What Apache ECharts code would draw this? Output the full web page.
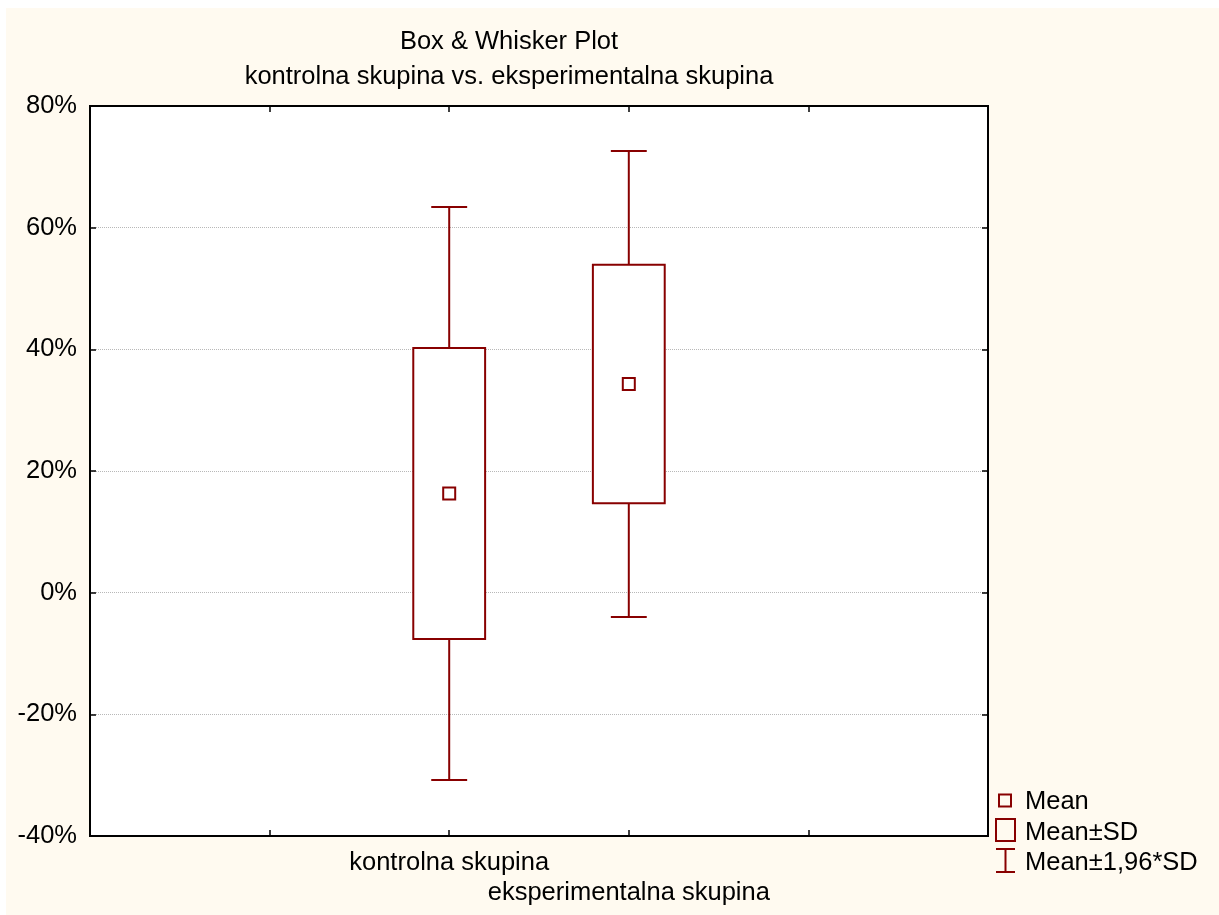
<!DOCTYPE html>
<html>
<head>
<meta charset="utf-8">
<script src="https://cdn.jsdelivr.net/npm/echarts@6/dist/echarts.min.js"></script>
<style>
  html, body { margin: 0; padding: 0; background: #ffffff; }
  #chart { position: absolute; left: 6px; top: 8px; width: 1213px; height: 907px; }
</style>
</head>
<body>
<div id="chart"></div>
<script>
// groups and their statistics (percent)
const groups = ["kontrolna skupina", "eksperimentalna skupina"];
const groupPos = [2, 3]; // slot on the x axis
const means = [16.3, 34.3];
const sdLow = [-7.6, 14.7];
const sdHigh = [40.2, 53.9];
const ciLow = [-30.8, -4.0];
const ciHigh = [63.4, 72.6];

// x axis slots: 6 points, groups sit on the 3rd and 4th
const xSlots = ["", "", groups[0], groups[1], "", ""];
const yTicks = { min: -40, max: 80, step: 20 };

const red = "#880000";
const fontFamily = "'Liberation Sans', Arial, sans-serif";
const fontSize = 25.5;

const chart = echarts.init(document.getElementById("chart"));

const boxData = groups.map((g, i) => [groupPos[i], sdLow[i], sdHigh[i]]);
const whiskerData = groups.map((g, i) => [groupPos[i], ciLow[i], sdLow[i], sdHigh[i], ciHigh[i]]);
const meanData = groups.map((g, i) => [groupPos[i], means[i]]);

function renderBox(params, api) {
  const x = api.value(0);
  const lo = api.coord([x, api.value(1)]);
  const hi = api.coord([x, api.value(2)]);
  const w = api.size([1, 0])[0] * 0.4;
  return {
    type: "rect",
    shape: { x: lo[0] - w / 2, y: hi[1], width: w, height: lo[1] - hi[1] },
    style: { fill: "#ffffff", stroke: red, lineWidth: 2 },
  };
}

function renderWhisker(params, api) {
  const x = api.value(0);
  const pLo = api.coord([x, api.value(1)]);
  const pBoxLo = api.coord([x, api.value(2)]);
  const pBoxHi = api.coord([x, api.value(3)]);
  const pHi = api.coord([x, api.value(4)]);
  const cap = api.size([1, 0])[0] * 0.2;
  const st = { stroke: red, lineWidth: 2 };
  return {
    type: "group",
    children: [
      { type: "line", shape: { x1: pHi[0], y1: pHi[1], x2: pBoxHi[0], y2: pBoxHi[1] }, style: st },
      { type: "line", shape: { x1: pBoxLo[0], y1: pBoxLo[1], x2: pLo[0], y2: pLo[1] }, style: st },
      { type: "line", shape: { x1: pHi[0] - cap / 2, y1: pHi[1], x2: pHi[0] + cap / 2, y2: pHi[1] }, style: st },
      { type: "line", shape: { x1: pLo[0] - cap / 2, y1: pLo[1], x2: pLo[0] + cap / 2, y2: pLo[1] }, style: st },
    ],
  };
}

const tickStyle = { show: true, inside: true, length: 6, lineStyle: { color: "#000", width: 1.5 } };
const axisLineStyle = { show: true, onZero: false, lineStyle: { color: "#000", width: 2 } };

// legend built by hand (icons differ in size)
const legendTxt = { fill: "#000", font: fontSize + "px " + fontFamily };
const legendGraphic = [
  { type: "rect", shape: { x: 993, y: 786.5, width: 12, height: 12 }, style: { fill: "none", stroke: red, lineWidth: 2 } },
  { type: "text", left: 1019, top: 781, style: Object.assign({ text: "Mean" }, legendTxt) },
  { type: "rect", shape: { x: 990, y: 811, width: 19, height: 22 }, style: { fill: "none", stroke: red, lineWidth: 2 } },
  { type: "text", left: 1019, top: 812, style: Object.assign({ text: "Mean±SD" }, legendTxt) },
  { type: "polyline", shape: { points: [[990, 841], [1009, 841]] }, style: { stroke: red, lineWidth: 2 } },
  { type: "polyline", shape: { points: [[999.5, 841], [999.5, 864]] }, style: { stroke: red, lineWidth: 2 } },
  { type: "polyline", shape: { points: [[990, 864], [1009, 864]] }, style: { stroke: red, lineWidth: 2 } },
  { type: "text", left: 1019, top: 842, style: Object.assign({ text: "Mean±1,96*SD" }, legendTxt) },
];

chart.setOption({
  backgroundColor: "#fffaf0",
  animation: false,
  textStyle: { fontFamily: fontFamily },
  title: [
    { text: "Box & Whisker Plot", left: 498, top: 14, textAlign: "center",
      textStyle: { fontSize: fontSize, fontWeight: "normal", color: "#000", lineHeight: 30 } },
    { text: "kontrolna skupina vs. eksperimentalna skupina", left: 498, top: 49, textAlign: "center",
      textStyle: { fontSize: fontSize, fontWeight: "normal", color: "#000", lineHeight: 30 } },
  ],
  grid: {
    left: 84, top: 98, width: 898, height: 730,
    show: true, backgroundColor: "#ffffff", borderColor: "#000", borderWidth: 2,
  },
  xAxis: [
    {
      type: "category", data: xSlots, boundaryGap: false, position: "bottom",
      axisLine: axisLineStyle, axisTick: Object.assign({ interval: 0 }, tickStyle),
      axisLabel: {
        interval: 0, margin: 12, fontSize: fontSize, lineHeight: 30, color: "#000",
        formatter: (v, i) => (i === 3 ? "\n" + v : v),
      },
      splitLine: { show: false },
    },
    {
      type: "category", data: xSlots, boundaryGap: false, position: "top",
      axisLine: axisLineStyle, axisTick: Object.assign({ interval: 0 }, tickStyle),
      axisLabel: { show: false }, splitLine: { show: false },
    },
  ],
  yAxis: [
    {
      type: "value", min: yTicks.min, max: yTicks.max, interval: yTicks.step, position: "left",
      axisLine: axisLineStyle, axisTick: tickStyle,
      axisLabel: { formatter: "{value}%", fontSize: fontSize, color: "#000", margin: 13 },
      splitLine: { show: true, lineStyle: { color: "#b8b8b8", type: [1, 1], width: 1 } },
    },
    {
      type: "value", min: yTicks.min, max: yTicks.max, interval: yTicks.step, position: "right",
      axisLine: axisLineStyle, axisTick: tickStyle,
      axisLabel: { show: false }, splitLine: { show: false },
    },
  ],
  series: [
    { name: "Mean±1,96*SD", type: "custom", renderItem: renderWhisker, data: whiskerData, encode: { x: 0, y: [1, 2, 3, 4] }, z: 2 },
    { name: "Mean±SD", type: "custom", renderItem: renderBox, data: boxData, encode: { x: 0, y: [1, 2] }, z: 3 },
    {
      name: "Mean", type: "scatter", data: meanData, symbol: "rect", symbolSize: 12, z: 4,
      itemStyle: { color: "#ffffff", borderColor: red, borderWidth: 2, opacity: 1 },
    },
  ],
  graphic: legendGraphic,
});
</script>
</body>
</html>
